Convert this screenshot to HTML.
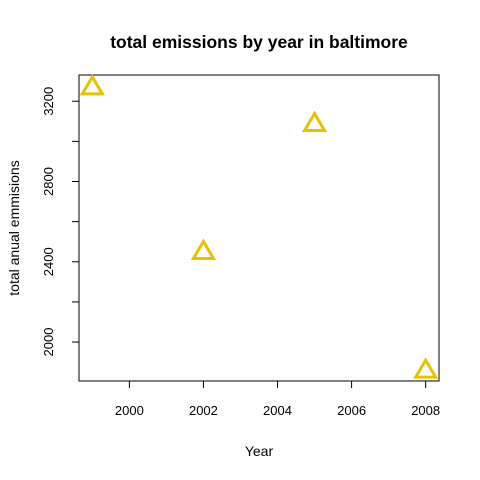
<!DOCTYPE html>
<html><head><meta charset="utf-8"><style>body{margin:0;background:#fff}svg{display:block;font-family:"Liberation Sans",Arial,sans-serif}</style></head>
<body>
<svg id="chart" width="480" height="480" viewBox="0 0 480 480">
<rect width="480" height="480" fill="#fff"/>
<text x="259" y="48" text-anchor="middle" font-size="17.5" font-weight="bold">total emissions by year in baltimore</text>
<rect x="79" y="75" width="360" height="306" fill="none" stroke="#000" stroke-width="1"/>
<text x="259" y="456" text-anchor="middle" font-size="14">Year</text>
<text transform="translate(19,228) rotate(-90)" text-anchor="middle" font-size="14">total anual emmisions</text>
<g id="axes"></g><g id="marks"></g>
</svg>
<script>
const years=[1999,2002,2005,2008];
const emissions=[3274.18,2453.92,3091.35,1862.28];
const xTicks=[2000,2002,2004,2006,2008];
const yTicks=[2000,2200,2400,2600,2800,3000,3200];
const yLabels=[2000,2400,2800,3200];
const L=79,R=439,T=75,B=381;
const xmin=Math.min(...years),xmax=Math.max(...years),xp=(xmax-xmin)*0.04;
const ymin=Math.min(...emissions),ymax=Math.max(...emissions),yp=(ymax-ymin)*0.04;
const x=v=>L+(v-(xmin-xp))/((xmax+xp)-(xmin-xp))*(R-L);
const y=v=>B-(v-(ymin-yp))/((ymax+yp)-(ymin-yp))*(B-T);
const ns="http://www.w3.org/2000/svg";
const ax=document.getElementById('axes'),mk=document.getElementById('marks');
function mkEl(t,a){const e=document.createElementNS(ns,t);for(const k in a)e.setAttribute(k,a[k]);return e;}
xTicks.forEach(v=>{
 const l=mkEl('line',{x1:x(v),x2:x(v),y1:B,y2:B+7,stroke:'#000'});
 
 
 ax.appendChild(l);
 const t=mkEl('text',{x:x(v),y:B+34,'text-anchor':'middle','font-size':'13'});
 
 
 t.textContent=v;ax.appendChild(t);
});
yTicks.forEach(v=>{
 const l=mkEl('line',{x1:L-7,x2:L,y1:y(v),y2:y(v),stroke:'#000'});
 
 
 ax.appendChild(l);
});
yLabels.forEach(v=>{
 const t=mkEl('text',{transform:`translate(${L-26},${y(v)}) rotate(-90)`,'text-anchor':'middle','font-size':'13'});
 
 
 t.textContent=v;ax.appendChild(t);
});
years.forEach((yr,i)=>{
 const cx=x(yr),cy=y(emissions[i]),s=10;
 const p=mkEl('polygon',{points:`${cx-s},${cy+s*0.75} ${cx+s},${cy+s*0.75} ${cx},${cy-s*0.95}`,fill:'none',stroke:'#E6C300','stroke-width':'3','stroke-linejoin':'miter'});
 
 
 mk.appendChild(p);
});
</script>
</body></html>
